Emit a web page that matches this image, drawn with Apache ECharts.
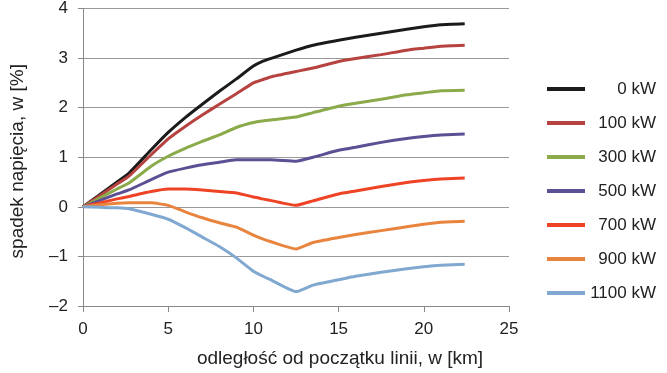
<!DOCTYPE html>
<html>
<head>
<meta charset="utf-8">
<script src="https://cdn.jsdelivr.net/npm/echarts@6/dist/echarts.min.js"></script>
<style>
  html, body { margin: 0; padding: 0; background: #fff; }
  #main { width: 667px; height: 373px; }
</style>
</head>
<body>
<div id="main"></div>
<script>
// odległość [km]
var xs = [0, 1, 2, 2.7, 4, 5, 6, 7, 8, 9, 10, 10.5, 11, 12.5, 13.5, 15, 16, 17.5, 19, 20, 21, 22.4];

var names = ['0 kW', '100 kW', '300 kW', '500 kW', '700 kW', '900 kW', '1100 kW'];
var colors = ['#1b1b1b', '#b6433f', '#8bab4b', '#5d4f93', '#ee4324', '#e8843e', '#80a8d0'];

var p0    = [0, 0.25, 0.5, 0.68, 1.15, 1.5, 1.8, 2.07, 2.33, 2.58, 2.84, 2.93, 2.99, 3.16, 3.26, 3.36, 3.42, 3.5, 3.58, 3.63, 3.67, 3.69];
var p100  = [0, 0.23, 0.46, 0.62, 1.05, 1.37, 1.62, 1.85, 2.07, 2.28, 2.5, 2.56, 2.62, 2.73, 2.8, 2.93, 2.99, 3.07, 3.16, 3.2, 3.24, 3.26];
var p300  = [0, 0.18, 0.36, 0.48, 0.82, 1.02, 1.18, 1.32, 1.45, 1.6, 1.7, 1.73, 1.75, 1.81, 1.9, 2.03, 2.09, 2.17, 2.26, 2.3, 2.34, 2.35];
var p500  = [0, 0.13, 0.26, 0.34, 0.55, 0.7, 0.78, 0.85, 0.9, 0.95, 0.95, 0.95, 0.95, 0.92, 1.0, 1.14, 1.2, 1.3, 1.38, 1.42, 1.45, 1.47];
var p700  = [0, 0.08, 0.16, 0.21, 0.31, 0.36, 0.36, 0.34, 0.31, 0.28, 0.2, 0.16, 0.13, 0.03, 0.12, 0.26, 0.32, 0.41, 0.49, 0.53, 0.56, 0.58];
var p900  = [0, 0.04, 0.07, 0.08, 0.08, 0.03, -0.1, -0.22, -0.32, -0.41, -0.57, -0.64, -0.7, -0.85, -0.72, -0.62, -0.56, -0.48, -0.4, -0.35, -0.31, -0.29];
var p1100 = [0, -0.01, -0.02, -0.04, -0.15, -0.25, -0.42, -0.61, -0.8, -1.03, -1.3, -1.39, -1.47, -1.71, -1.58, -1.47, -1.4, -1.32, -1.25, -1.21, -1.18, -1.16];

var values = [p0, p100, p300, p500, p700, p900, p1100];

var chart = echarts.init(document.getElementById('main'), null, { renderer: 'canvas' });

var series = names.map(function (n, i) {
  return {
    name: n,
    type: 'line',
    symbol: 'none',
    smooth: 0.15,
    lineStyle: { color: colors[i], width: 3 },
    itemStyle: { color: colors[i] },
    data: xs.map(function (x, j) { return [x, values[i][j]]; })
  };
});

var font = '"Liberation Sans", Arial, sans-serif';

var option = {
  animation: false,
  textStyle: { fontFamily: font },
  grid: { left: 83, right: 158, top: 8.5, bottom: 66 },
  legend: {
    orient: 'vertical',
    left: 547,
    top: 79,
    padding: 0,
    icon: 'rect',
    itemWidth: 38,
    itemHeight: 4,
    itemGap: 14,
    data: names,
    formatter: function (n) { return '{a|' + n + '}'; },
    textStyle: {
      fontSize: 17,
      lineHeight: 20,
      rich: {
        a: { width: 66, align: 'right', fontSize: 17, lineHeight: 20, color: '#222', fontFamily: font }
      }
    }
  },
  xAxis: {
    type: 'value',
    min: 0, max: 25, interval: 5,
    name: 'odległość od początku linii, w [km]',
    nameLocation: 'middle',
    nameGap: 43,
    nameTextStyle: { fontSize: 19, color: '#222', padding: [0, 0, 0, 88] },
    axisLine: { show: true, onZero: false, lineStyle: { color: '#888', width: 1 } },
    axisTick: { show: true, length: 6, lineStyle: { color: '#888' } },
    axisLabel: { fontSize: 17, color: '#222', margin: 15 },
    splitLine: { show: false }
  },
  yAxis: {
    type: 'value',
    min: -2, max: 4, interval: 1,
    name: 'spadek napięcia, w [%]',
    nameLocation: 'middle',
    nameGap: 56,
    nameTextStyle: { fontSize: 19, color: '#222', padding: [0, 8, 0, 0] },
    axisLine: { show: true, lineStyle: { color: '#888', width: 1 } },
    axisTick: { show: true, length: 5, lineStyle: { color: '#888' } },
    axisLabel: {
      fontSize: 17, color: '#222', margin: 15,
      formatter: function (v) { return v < 0 ? '\u2013' + Math.abs(v) : String(v); }
    },
    splitLine: { show: true, lineStyle: { color: '#999', width: 1 } }
  },
  series: series
};

chart.setOption(option);
</script>
</body>
</html>
